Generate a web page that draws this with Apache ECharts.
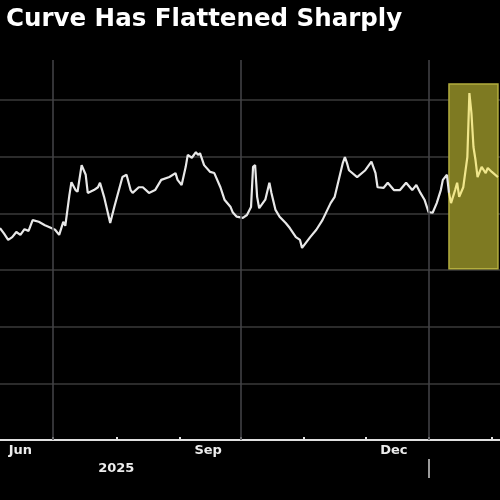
<!DOCTYPE html>
<html>
<head>
<meta charset="utf-8">
<script src="https://cdn.jsdelivr.net/npm/echarts@6/dist/echarts.min.js"></script>
<style>
html,body{margin:0;padding:0;background:#000;}
#chart{width:500px;height:500px;}
</style>
</head>
<body>
<div id="chart"></div>
<script>
// ---- data ----
const titleText = 'Curve Has Flattened Sharply';
const dates = [
 '2025-06-05','2025-06-07','2025-06-09','2025-06-11','2025-06-13','2025-06-15','2025-06-17','2025-06-19','2025-06-21','2025-06-24',
 '2025-06-27','2025-06-29','2025-07-02','2025-07-04','2025-07-06','2025-07-07','2025-07-09','2025-07-10','2025-07-12','2025-07-13',
 '2025-07-15','2025-07-17','2025-07-18','2025-07-21','2025-07-23','2025-07-24','2025-07-26','2025-07-29','2025-07-31','2025-08-04',
 '2025-08-06','2025-08-08','2025-08-09','2025-08-12','2025-08-14','2025-08-17','2025-08-20','2025-08-23','2025-08-27','2025-08-30',
 '2025-08-31','2025-09-02','2025-09-04','2025-09-05','2025-09-07','2025-09-09','2025-09-10','2025-09-11','2025-09-13','2025-09-16',
 '2025-09-18','2025-09-21','2025-09-23','2025-09-26','2025-09-27','2025-09-29','2025-10-02','2025-10-04','2025-10-06','2025-10-07',
 '2025-10-08','2025-10-09','2025-10-10','2025-10-13','2025-10-15','2025-10-16','2025-10-18','2025-10-20','2025-10-23','2025-10-25',
 '2025-10-28','2025-10-30','2025-10-31','2025-11-04','2025-11-07','2025-11-10','2025-11-14','2025-11-16','2025-11-18','2025-11-20',
 '2025-11-21','2025-11-22','2025-11-23','2025-11-27','2025-12-01','2025-12-04','2025-12-06','2025-12-07','2025-12-10','2025-12-12',
 '2025-12-15','2025-12-18','2025-12-21','2025-12-24','2025-12-26','2025-12-28','2025-12-30','2026-01-01','2026-01-03','2026-01-05',
 '2026-01-07','2026-01-08','2026-01-10','2026-01-11','2026-01-12','2026-01-14','2026-01-15','2026-01-16','2026-01-18','2026-01-20',
 '2026-01-21','2026-01-22','2026-01-23','2026-01-24','2026-01-25','2026-01-27','2026-01-29','2026-01-30','2026-02-01','2026-02-04'
];
const spread = [
 37.4,36.4,35.3,35.8,36.7,36.2,37.2,36.9,38.8,38.5,
 37.9,37.6,37.1,36.2,38.5,37.8,43.2,45.5,44.1,43.8,
 48.5,46.8,43.6,44.1,44.6,45.4,42.9,38.3,41.1,46.4,
 46.8,44.1,43.6,44.6,44.6,43.6,44.1,45.9,46.4,47.1,
 45.9,45.0,48.2,50.3,49.8,50.8,50.3,50.6,48.5,47.3,
 47.1,44.6,42.4,41.1,40.2,39.4,39.2,39.7,41.1,48.2,
 48.5,42.9,40.9,42.4,45.4,43.6,40.6,39.4,38.3,37.4,
 35.8,35.3,33.9,35.8,37.1,38.8,41.8,42.9,45.9,48.9,
 49.9,48.9,47.6,46.4,47.6,49.1,47.1,44.6,44.5,45.4,
 44.1,44.1,45.4,44.1,45.0,43.6,42.4,40.2,40.1,41.8,
 44.1,45.9,46.8,43.6,41.8,44.1,45.4,42.9,44.6,49.9,
 61.2,57.7,51.7,49.4,46.4,48.2,47.1,48.0,47.3,46.4
];
const highlightStart = '2026-01-11';
const highlightEnd = '2026-02-04';
const highlightLow = 30.2;
const highlightHigh = 62.8;
const axisMin = '2025-06-05';
const axisMax = '2026-02-05';
const yMax = 67.05;
const quarterLines = ['2025-07-01','2025-10-01','2026-01-01'];
const monthTicks = ['2025-07-01','2025-08-01','2025-09-01','2025-10-01','2025-11-01','2025-12-01','2026-01-01','2026-02-01'];
const monthLabelDates = ['2025-06-15','2025-09-15','2025-12-15'];
const monthLabels = ['Jun','Sep','Dec'];
const yearLabelDate = '2025-08-01';
const yearLabel = '2025';
const yearBreak = ['2026-01-01'];

// ---- helpers: dates -> day offsets on a value axis ----
function utc(s){ const p = s.split('-').map(Number); return Date.UTC(p[0], p[1]-1, p[2]); }
const base = utc(axisMin);
function day(s){ return Math.round((utc(s) - base) / 86400000); }
const hs = day(highlightStart);
const pts = dates.map((d,i)=>[day(d), spread[i]]);
const whiteData = pts.filter(p=>p[0] <= hs);
const yellowData = pts.filter(p=>p[0] >= hs);
const labelMap = {};
monthLabelDates.forEach((d,i)=>{ labelMap[day(d)] = monthLabels[i]; });

const chart = echarts.init(document.getElementById('chart'), null, {renderer:'canvas'});
const option = {
  backgroundColor:'#000',
  animation:false,
  title:{
    text:titleText, left:1, top:2,
    textStyle:{color:'#fff', fontSize:24.5, fontWeight:'bold', fontFamily:'DejaVu Sans'}
  },
  grid:{left:0, right:0, top:60, bottom:60},
  xAxis:[{
    type:'value', min:0, max:day(axisMax),
    axisLine:{show:true, lineStyle:{color:'#e0e0e0', width:2}},
    axisTick:{show:true, customValues:monthTicks.map(day), length:3, inside:true, lineStyle:{color:'#e0e0e0', width:2}},
    axisLabel:{show:true, customValues:monthLabelDates.map(day), color:'#ececec', fontSize:13, fontWeight:'bold', fontFamily:'DejaVu Sans', margin:4,
      formatter:function(v){ return labelMap[Math.round(v)] || ''; }},
    splitLine:{show:false}
  },{
    type:'value', min:0, max:day(axisMax), position:'bottom', offset:19,
    axisLine:{show:false},
    axisTick:{show:true, customValues:yearBreak.map(day), length:19, lineStyle:{color:'#cfcfcf', width:1.5}},
    axisLabel:{show:true, customValues:[day(yearLabelDate)], color:'#ececec', fontSize:13, fontWeight:'bold', fontFamily:'DejaVu Sans', margin:3,
      formatter:function(){ return yearLabel; }},
    splitLine:{show:false}
  }],
  yAxis:{
    type:'value', min:0, max:yMax, interval:10,
    axisLine:{show:false}, axisTick:{show:false}, axisLabel:{show:false},
    splitLine:{show:true, showMinLine:false, showMaxLine:false, lineStyle:{color:'#3a3a3a', width:1.5}}
  },
  series:[{
    type:'line', xAxisIndex:0, data:whiteData, showSymbol:false, symbol:'none',
    lineStyle:{color:'#e8e8e8', width:2.2}, z:3,
    markLine:{silent:true, symbol:'none', label:{show:false},
      lineStyle:{color:'#454548', width:1.5, type:'solid'},
      data:quarterLines.map(d=>({xAxis:day(d)}))}
  },{
    type:'line', xAxisIndex:0, data:yellowData, showSymbol:false, symbol:'none',
    lineStyle:{color:'#f0e68c', width:2.2}, z:4,
    markArea:{silent:true,
      itemStyle:{color:'#7e7a22', borderColor:'#b3ad3e', borderWidth:1.5},
      data:[[{xAxis:hs, yAxis:highlightLow},{xAxis:day(highlightEnd), yAxis:highlightHigh}]]}
  }]
};
chart.setOption(option);
</script>
</body>
</html>
